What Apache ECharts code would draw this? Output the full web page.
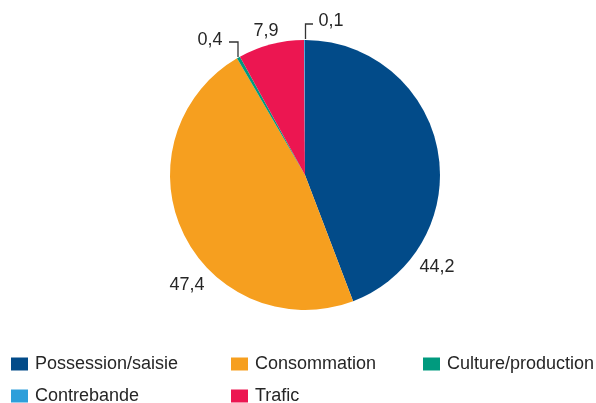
<!DOCTYPE html>
<html>
<head>
<meta charset="utf-8">
<script src="https://cdn.jsdelivr.net/npm/echarts@6/dist/echarts.min.js"></script>
<style>
html,body{margin:0;padding:0;background:#fff;}
#c{width:596px;height:403px;}
</style>
</head>
<body>
<div id="c"></div>
<script>
// Legend order
const legendCategories = ['Possession/saisie', 'Consommation', 'Culture/production', 'Contrebande', 'Trafic'];
// Pie order (clockwise from 12 o'clock)
const sliceNames  = ['Possession/saisie', 'Consommation', 'Culture/production', 'Trafic', 'Contrebande'];
const sliceValues = [44.2, 47.4, 0.4, 7.9, 0.1];
const labelTexts  = ['44,2', '47,4', '0,4', '7,9', '0,1'];

const colorMap = {
  'Possession/saisie': '#024b89',
  'Consommation': '#f69f1f',
  'Culture/production': '#009a7e',
  'Contrebande': '#2e9fda',
  'Trafic': '#ec1651'
};

// label placement (annotation layout, not data)
const labelPos = {
  'Possession/saisie': {x: 437, y: 267},
  'Consommation': {x: 187, y: 285},
  'Culture/production': {x: 210, y: 40, line: [[238, 57], [238, 42], [229, 42]]},
  'Trafic': {x: 266, y: 31},
  'Contrebande': {x: 331, y: 21, line: [[305.5, 39], [305.5, 24], [313, 24]]}
};
// legend grid placement: [left, top] per legend entry
const legendSlots = [[11, 355], [231, 355], [423, 355], [11, 387], [231, 387]];

const chart = echarts.init(document.getElementById('c'), null, {renderer: 'canvas'});

const pieData = sliceNames.map((n, i) => ({
  name: n,
  value: sliceValues[i],
  itemStyle: {color: colorMap[n]},
  label: {formatter: labelTexts[i]},
  labelLine: {show: !!labelPos[n].line}
}));

const legendBase = {
  orient: 'horizontal',
  icon: 'rect',
  itemWidth: 17,
  itemHeight: 13,
  padding: 0,
  selectedMode: false,
  textStyle: {
    fontFamily: 'Liberation Sans, Arial, sans-serif',
    fontSize: 18,
    color: '#262626',
    lineHeight: 18,
    padding: [0, 0, 0, 2]
  }
};

chart.setOption({
  animation: false,
  color: legendCategories.map(n => colorMap[n]),
  legend: legendCategories.map((n, i) => Object.assign({}, legendBase, {
    left: legendSlots[i][0], top: legendSlots[i][1], data: [n]
  })),
  series: [{
    type: 'pie',
    center: [305, 175],
    radius: [0, 135],
    startAngle: 90,
    clockwise: true,
    avoidLabelOverlap: false,
    data: pieData,
    label: {
      show: true,
      position: 'outside',
      fontFamily: 'Liberation Sans, Arial, sans-serif',
      fontSize: 18,
      color: '#262626'
    },
    labelLine: {
      lineStyle: {color: '#333', width: 1.3}
    },
    labelLayout: function (params) {
      const n = sliceNames[params.dataIndex];
      const p = labelPos[n];
      const o = {x: p.x, y: p.y, align: 'center', verticalAlign: 'middle'};
      if (p.line) o.labelLinePoints = p.line;
      return o;
    },
    emphasis: {disabled: true}
  }]
});
</script>
</body>
</html>
